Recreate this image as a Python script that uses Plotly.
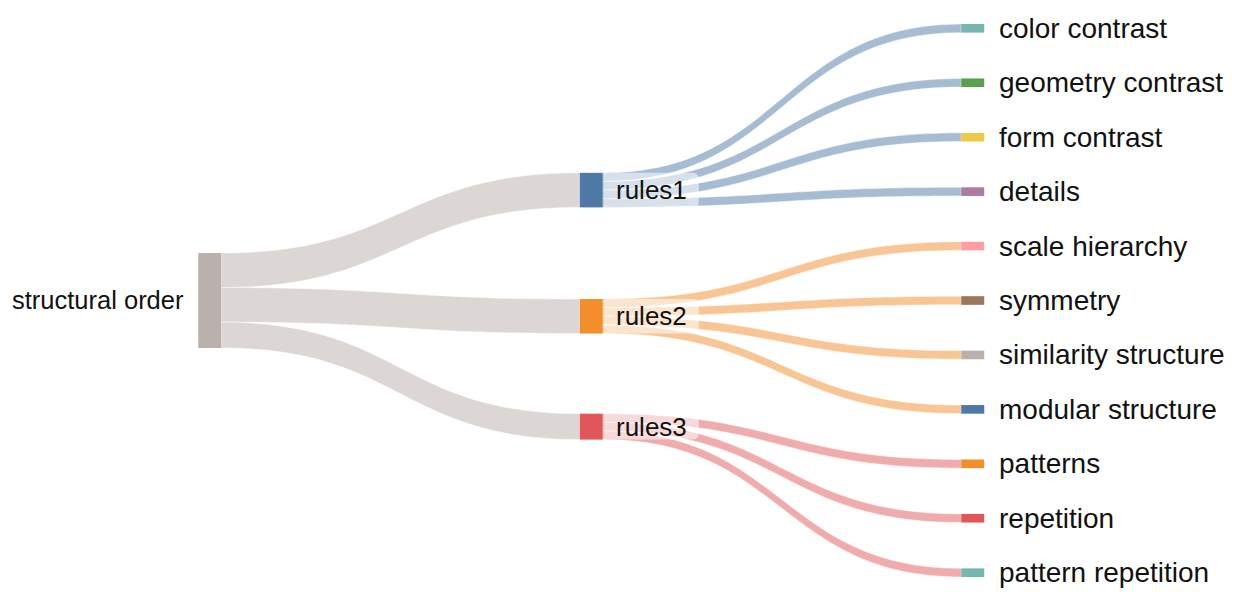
import plotly.graph_objects as go

# ---------------- data ----------------
root_label = "structural order"
group_labels = ["rules1", "rules2", "rules3"]
leaf_labels = ["color contrast", "geometry contrast", "form contrast", "details",
               "scale hierarchy", "symmetry", "similarity structure", "modular structure",
               "patterns", "repetition", "pattern repetition"]
leaf_group = [0, 0, 0, 0, 1, 1, 1, 1, 2, 2, 2]
leaf_values = [1, 1, 1, 1, 1, 1, 1, 1, 1, 1, 1]

root_color = "#bab0ac"
group_colors = ["#4e79a7", "#f28e2c", "#e15759"]
leaf_colors = ["#76b7b2", "#59a14f", "#edc949", "#af7aa1", "#ff9da7", "#9c755f",
               "#bab0ac", "#4e79a7", "#f28e2c", "#e15759", "#76b7b2"]

# ---------------- layout geometry (figure px) ----------------
W, HFIG = 1223, 581           # page adds an 8px body margin
dom_left, dom_right = 201, 965.5   # node-centre columns
dom_top = 16
SPAN = 553                    # vertical extent of the leaf column
H_D = 285                     # sankey domain height used for value scaling
dom_bot = dom_top + H_D
DW = dom_right - dom_left
PAD = 100
THICK = 23


def rgba(hexc, a):
    h = hexc.lstrip("#")
    return "rgba(%d,%d,%d,%.2f)" % (int(h[0:2], 16), int(h[2:4], 16), int(h[4:6], 16), a)


group_values = [sum(v for v, g in zip(leaf_values, leaf_group) if g == gi)
                for gi in range(len(group_labels))]
total = sum(group_values)

# same scaling rule as plotly's d3-sankey
n_max = len(leaf_labels)
py_eff = min(PAD, 2 / 3 * H_D / (n_max - 1))
cols = [[total], group_values, leaf_values]
ky = min((H_D - (len(c) - 1) * py_eff) / sum(c) for c in cols)

gap = (SPAN - ky * sum(leaf_values)) / (len(leaf_values) - 1)
leaf_c = []
acc = 0.0
for v in leaf_values:
    leaf_c.append(acc + ky * v / 2)
    acc += ky * v + gap

root_c = SPAN / 2
root_top = root_c - ky * total / 2

group_c = []
acc = root_top
for gi, gv in enumerate(group_values):
    link_c = acc + ky * gv / 2
    acc += ky * gv
    tg = [c for c, g in zip(leaf_c, leaf_group) if g == gi]
    group_c.append((link_c + sum(tg) / len(tg)) / 2)

labels = [root_label] + group_labels + leaf_labels
colors = [root_color] + group_colors + leaf_colors
node_x = [0.001] + [0.5] * len(group_labels) + [0.999] * len(leaf_labels)
node_y = [root_c / H_D] + [c / H_D for c in group_c] + [c / H_D for c in leaf_c]

src, tgt, val, lcol = [], [], [], []
for gi, gv in enumerate(group_values):
    src.append(0); tgt.append(1 + gi); val.append(gv); lcol.append(rgba(root_color, 0.5))
for li, (g, v) in enumerate(zip(leaf_group, leaf_values)):
    src.append(1 + g); tgt.append(1 + len(group_labels) + li); val.append(v)
    lcol.append(rgba(group_colors[g], 0.5))

fig = go.Figure(go.Sankey(
    arrangement="fixed",
    domain=dict(x=[dom_left / W, dom_right / W], y=[1 - dom_bot / HFIG, 1 - dom_top / HFIG]),
    node=dict(label=labels, color=colors, x=node_x, y=node_y, pad=PAD, thickness=THICK,
              line=dict(width=0)),
    link=dict(source=src, target=tgt, value=val, color=lcol,
              line=dict(color="white", width=0.5)),
    textfont=dict(color="rgba(0,0,0,0)", size=1, shadow="none"),
))

FONT = "Liberation Sans, Arial, sans-serif"
TXT = "#111111"
ann = []
shapes = []


def px(x):
    return x / W


def py(y):
    return 1 - y / HFIG


# root label (left of node)
ann.append(dict(x=px(dom_left - THICK / 2 - 12), y=py(dom_top + root_c), text=root_label,
                xanchor="right", yanchor="middle", showarrow=False,
                font=dict(family=FONT, size=25.5, color=TXT)))
# group labels with translucent rounded box
R = 6
for gi, lab in enumerate(group_labels):
    cx = dom_left + 0.5 * DW
    left = cx + THICK / 2 + 1
    right = left + 95
    hgt = ky * group_values[gi]
    top = dom_top + group_c[gi] - hgt / 2
    bot = top + hgt
    path = ("M %f,%f L %f,%f Q %f,%f %f,%f L %f,%f Q %f,%f %f,%f L %f,%f Z" % (
        px(left), py(top), px(right - R), py(top), px(right), py(top), px(right), py(top + R),
        px(right), py(bot - R), px(right), py(bot), px(right - R), py(bot), px(left), py(bot)))
    shapes.append(dict(type="path", xref="paper", yref="paper", layer="above", path=path,
                       fillcolor="rgba(255,255,255,0.55)", line=dict(width=0)))
    ann.append(dict(x=px(left + 10), y=py(dom_top + group_c[gi]), text=lab,
                    xanchor="left", yanchor="middle", showarrow=False,
                    font=dict(family=FONT, size=26, color=TXT)))
# leaf labels
for li, lab in enumerate(leaf_labels):
    ann.append(dict(x=px(dom_right + THICK / 2 + 12), y=py(dom_top + leaf_c[li]), text=lab,
                    xanchor="left", yanchor="middle", showarrow=False,
                    font=dict(family=FONT, size=28, color=TXT)))

fig.update_layout(width=W, height=HFIG, margin=dict(l=0, r=0, t=0, b=0),
                  paper_bgcolor="white", plot_bgcolor="white",
                  annotations=ann, shapes=shapes, showlegend=False)

fig.write_html("out.html")
